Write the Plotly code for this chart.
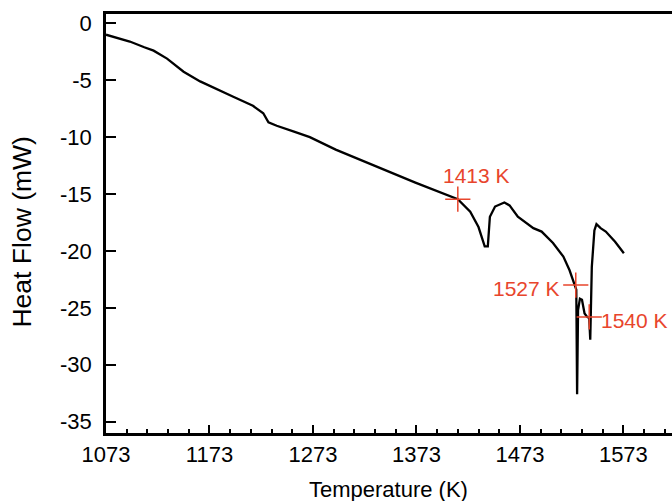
import plotly.graph_objects as go

# DSC curve
temperature = [1073, 1085, 1096, 1110, 1119, 1132, 1148, 1164, 1180, 1196, 1215, 1225, 1230, 1238,
               1254, 1270, 1295, 1334, 1372, 1413, 1425, 1433, 1439, 1442, 1444, 1449, 1458, 1463,
               1471, 1486, 1494, 1505, 1515, 1521, 1525, 1527.5, 1528.3, 1529.2, 1531, 1533, 1535.5,
               1538, 1540, 1541, 1542.5, 1545, 1547, 1551, 1556, 1565, 1573.5]
heat_flow = [-1.0, -1.3, -1.6, -2.1, -2.4, -3.1, -4.25, -5.1, -5.8, -6.45, -7.25, -7.9, -8.7, -9.0,
             -9.5, -10.0, -11.1, -12.6, -14.0, -15.45, -16.55, -17.9, -19.6, -19.6, -17.0, -16.1, -15.75, -16.0,
             -17.0, -18.0, -18.3, -19.3, -20.5, -21.7, -22.7, -23.4, -32.6, -25.2, -24.2, -24.3, -25.5,
             -25.8, -25.9, -27.8, -21.4, -18.2, -17.65, -18.0, -18.3, -19.2, -20.2]

# marked transition temperatures
mark_temps = [1413, 1527, 1540]
mark_values = [-15.45, -23.0, -25.8]
label_x = [1431.5, 1514.0, 1549.5]
label_y = [-13.4, -23.3, -26.1]
label_anchor = ["center", "right", "left"]

x_ticks = [1073, 1173, 1273, 1373, 1473, 1573]
y_ticks = [0, -5, -10, -15, -20, -25, -30, -35]

RED = "#E8452C"
FONT = "Arial, Liberation Sans, sans-serif"

fig = go.Figure()
fig.add_trace(go.Scatter(x=temperature, y=heat_flow, mode="lines",
                         line=dict(color="black", width=2.3), showlegend=False))
fig.add_trace(go.Scatter(x=mark_temps, y=mark_values, mode="markers",
                         marker=dict(symbol="cross-thin", size=18,
                                     line=dict(color=RED, width=1.5)),
                         showlegend=False))
for t, lx, ly, anc in zip(mark_temps, label_x, label_y, label_anchor):
    fig.add_annotation(x=lx, y=ly, text=f"{t} K", showarrow=False, xanchor=anc,
                       yanchor="middle", font=dict(color=RED, size=21, family=FONT))

# axis titles
fig.add_annotation(xref="paper", yref="paper", x=-0.1484, y=0.4785, text="Heat Flow (mW)",
                   textangle=-90, showarrow=False, xanchor="center", yanchor="middle",
                   font=dict(size=26.5, family=FONT, color="black"))
fig.add_annotation(xref="paper", yref="paper", x=0.4991, y=-0.1337, text="Temperature (K)",
                   showarrow=False, xanchor="center", yanchor="middle",
                   font=dict(size=22, family=FONT, color="black"))

fig.update_layout(
    width=672, height=501,
    margin=dict(l=106, r=0, t=14, b=68, autoexpand=False),
    plot_bgcolor="white", paper_bgcolor="white",
    font=dict(family=FONT, size=22, color="black"),
)
fig.update_xaxes(
    range=[1073, 1620], tickmode="array", tickvals=x_ticks,
    ticktext=[str(v) for v in x_ticks],
    ticks="inside", ticklen=8, tickwidth=2, tickcolor="black",
    minor=dict(ticks="inside", ticklen=4, tickwidth=2, tickcolor="black", dtick=20, tick0=1073),
    showline=True, linewidth=2.5, linecolor="black", mirror=True,
    showgrid=False, zeroline=False, automargin=False,
    tickfont=dict(size=22),
)
fig.update_yaxes(
    range=[-36, 0.82], tickmode="array", tickvals=y_ticks,
    ticktext=[str(v) for v in y_ticks],
    ticks="inside", ticklen=10, tickwidth=2, tickcolor="black",
    showline=True, linewidth=2.5, linecolor="black", mirror=False,
    showgrid=False, zeroline=False, automargin=False,
    tickfont=dict(size=22), ticklabelstandoff=7,
)

fig.write_html("out.html", config={"displayModeBar": False},
               post_script="document.body.style.margin='0';document.body.style.overflow='hidden';")
